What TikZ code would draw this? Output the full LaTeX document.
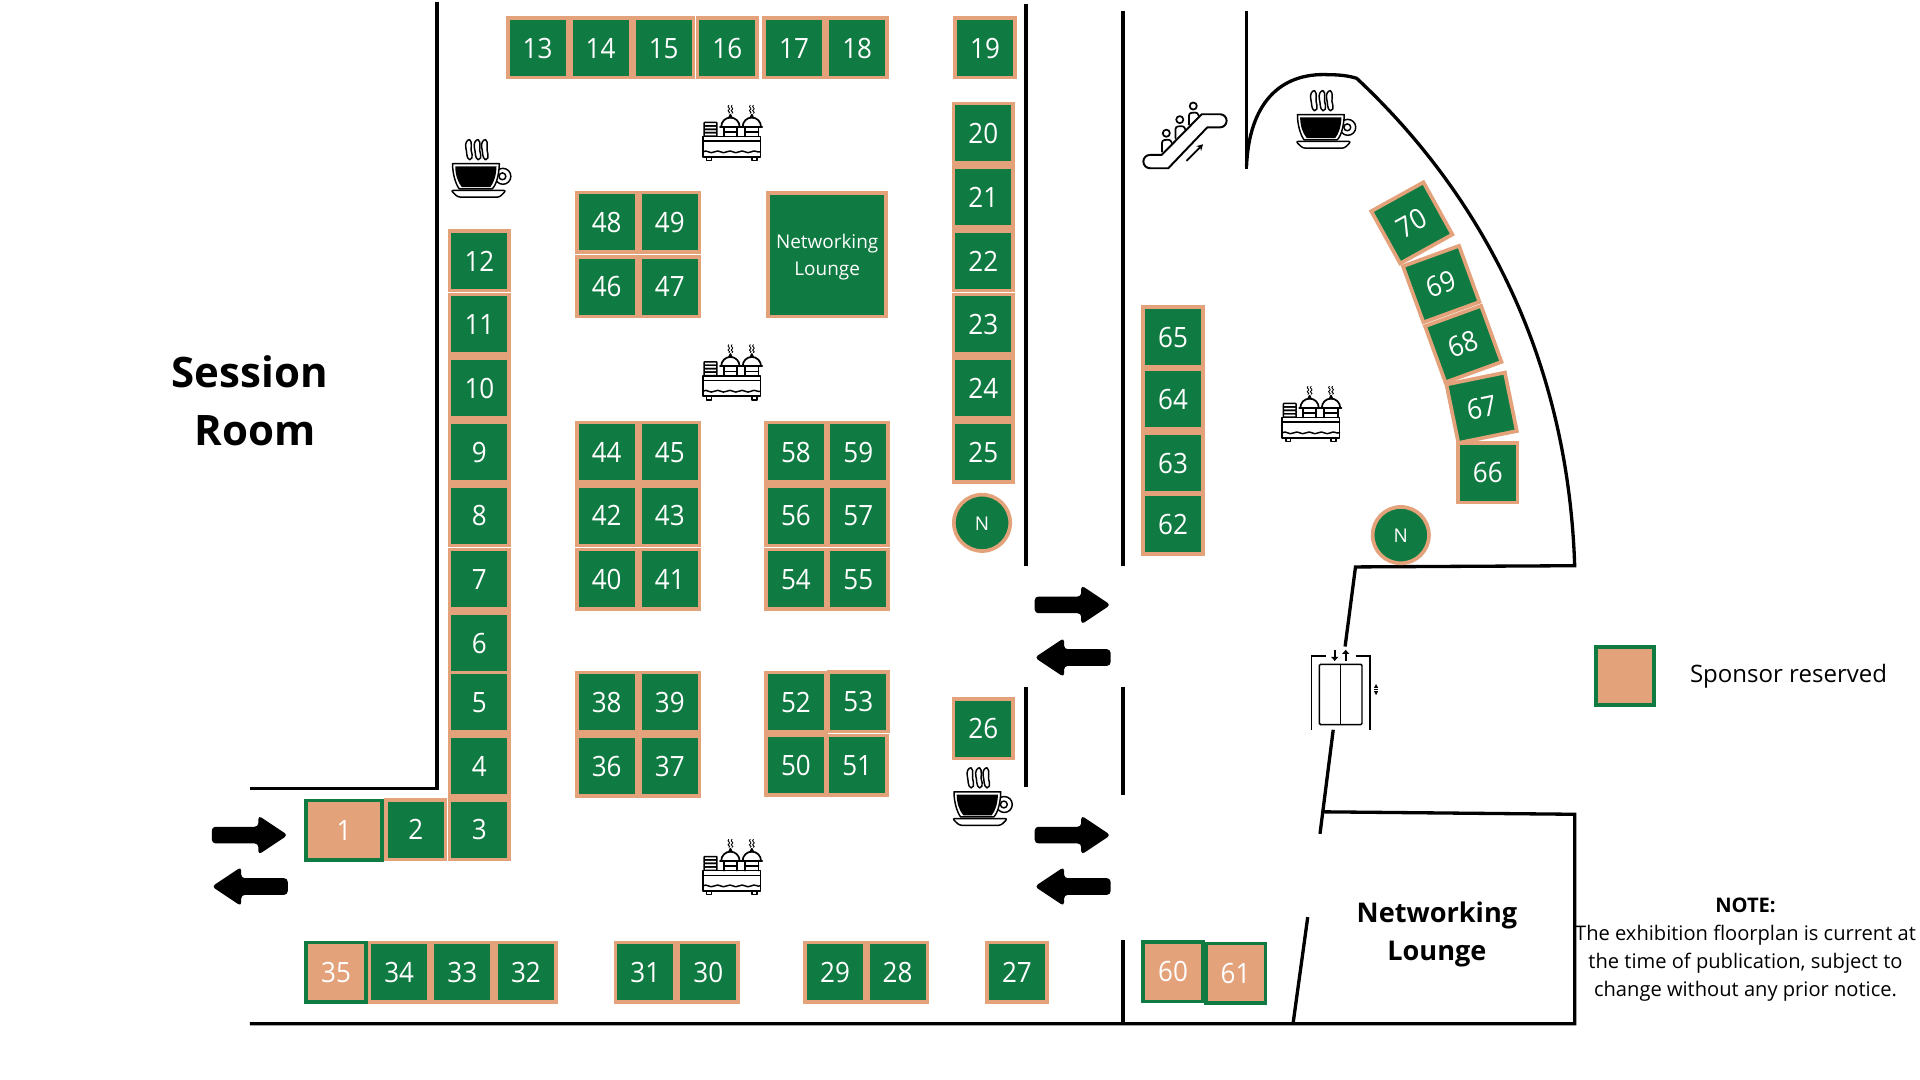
\documentclass[tikz,border=0pt]{standalone}
\usepackage{fontspec}
\setmainfont{Open Sans}
\newfontfamily\boothfont[FakeStretch=0.93]{Open Sans}
\usetikzlibrary{arrows.meta}
\definecolor{boothgreen}{HTML}{0F7A41}
\definecolor{boothpeach}{HTML}{E3A27A}
\tikzset{
	wall/.style={line width=0.027cm, line cap=butt},
	booth/.style={draw=boothpeach, fill=boothgreen, line width=0.03cm, inner sep=0, text=white, align=center, minimum width=0.487cm, minimum height=0.487cm, text height=0.168cm, text depth=0cm, font=\boothfont\fontsize{6.5}{8}\selectfont},
	reserved/.style={booth, draw=boothgreen, fill=boothpeach},
	pillar/.style={booth, circle, minimum width=0.46cm, minimum height=0.46cm, text height=0.125cm, font=\fontsize{4.4}{5}\selectfont},
	roomlabel/.style={align=center, inner sep=0, font=\bfseries\fontsize{9.75}{13.3}\selectfont},
	notelabel/.style={align=center, inner sep=0, font=\fontsize{4.67}{6.55}\selectfont},
	iconline/.style={line width=0.012cm, line join=round, line cap=round},
	movearrow/.pic={
		\fill[black, rounded corners=0.03cm] (-31,-6.8) -- (7,-6.8) -- (7,-16) -- (31,0) -- (7,16) -- (7,6.8) -- (-31,6.8) -- cycle;
	},
	coffeecup/.pic={
		\draw[iconline] (17.7,7) circle (6.5);
		\draw[iconline] (17.3,7) circle (2.8);
		\draw[iconline, fill=white] (-23.4,-3.3) -- (14.8,-3.3) .. controls (14.6,5) and (12.5,14) .. (9,17.2) -- (-18,17.2) .. controls (-21,13) and (-23.4,5) .. cycle;
		\fill[black] (-21.2,-1.1) -- (12.5,-1.1) .. controls (12.3,6) and (10.5,12) .. (7.4,15.8) -- (-15.8,15.8) .. controls (-19,12) and (-21.2,6) .. cycle;
		\draw[iconline, fill=white, rounded corners=0.02cm] (-24.8,18.5) -- (20.4,18.5) -- (15,24) -- (-19,24) -- cycle;
		\foreach \sx in {-10.5,-3.5,2.5}
			\draw[iconline] (\sx+1,-23) .. controls (\sx+4,-21) and (\sx+1,-15) .. (\sx+3,-11) .. controls (\sx+3.5,-9) and (\sx+3,-6.5) .. (\sx+1,-6.5) .. controls (\sx-2,-8) and (\sx-1,-13) .. (\sx-2,-16) .. controls (\sx-3,-20) and (\sx-1,-23) .. (\sx+1,-23) -- cycle;
	},
	buffet/.pic={
		\draw[iconline, line width=0.014cm] (-23.5,3) rectangle (23.5,19.5);
		\draw[iconline] (-23.5,6.8) -- (23.5,6.8);
		\draw[iconline] (-23.5,15.5) .. controls (-20,13) and (-18,18) .. (-14,15.5) .. controls (-10,13) and (-8,18) .. (-4,15.5) .. controls (0,13) and (2,18) .. (6,15.5) .. controls (10,13) and (12,18) .. (16,15.5) .. controls (19,13.5) and (21,16.5) .. (23.5,15.5);
		\draw[iconline, line width=0.014cm] (-20.5,19.5) rectangle (-16.5,22.5);
		\draw[iconline, line width=0.014cm] (16.5,19.5) rectangle (20.5,22.5);
		\foreach \py in {-8.5,-5.7,-2.9,-0.1}
			\draw[iconline, rounded corners=0.005cm] (-22.5,\py) rectangle (-12,\py+2.8);
		\foreach \dx in {-1,16.5} {
			\draw[iconline, line width=0.014cm] (\dx-5.5,-5) -- (\dx-5.5,3) (\dx+5.5,-5) -- (\dx+5.5,3);
			\draw[iconline] (\dx-5.5,-0.8) -- (\dx+5.5,-0.8);
			\draw[iconline, line width=0.014cm] (\dx-7.5,-5) arc (180:360:7.5);
			\draw[iconline, line width=0.014cm] (\dx-8.5,-5) -- (\dx+8.5,-5);
			\draw[iconline, fill=black] (\dx-1.2,-12.5) -- (\dx,-15) -- (\dx+1.2,-12.5) -- cycle;
			\foreach \wx in {-1.3,1.3}
				\draw[iconline, line width=0.007cm] (\dx+\wx,-22.5) .. controls (\dx+\wx-2.5,-21) and (\dx+\wx+2.5,-20) .. (\dx+\wx,-18.8) .. controls (\dx+\wx-2.5,-17.8) and (\dx+\wx+2.5,-17) .. (\dx+\wx,-16);
		}
	},
	escalator/.pic={
		\draw[line width=0.016cm, line join=round] (-28.3,15.5) -- (-18.8,15.5) -- (13.9,-17.7) -- (28.9,-17.7) arc (-90:90:5.35) -- (18.5,-7) -- (-13.4,26.4) -- (-28.3,26.4) arc (90:270:5.45) -- cycle;
		\foreach \hx/\hy in {-15/-2.2,-4/-13.3,7/-24.4} {
			\draw[iconline, line width=0.014cm] (\hx,\hy) circle (2.9);
			\draw[iconline, line width=0.014cm, rounded corners=0.02cm] (\hx-3.5,\hy+15.2) -- (\hx-3.5,\hy+5.7) -- (\hx+3.5,\hy+5.2) -- (\hx+4.5,\hy+8.2);
		}
		\draw[line width=0.014cm, -{Stealth[length=0.05cm, width=0.055cm]}] (1.4,20.4) -- (15,6.8);
	}
}

\begin{document}
\begin{tikzpicture}[x=0.01cm, y=-0.01cm]
	\useasboundingbox (0,0) rectangle (1568,882);
	
	%%%%% WALLS %%%%%
	\draw[wall] (357,2) -- (357,644) -- (204,644);
	\draw[wall] (838,3) -- (838,462);
	\draw[wall] (917,9) -- (917,462);
	\draw[wall] (838,561) -- (838,643);
	\draw[wall] (917,561) -- (917,649);
	\draw[wall] (917,768) -- (917,836);
	\draw[wall] (204,836) -- (1286,836) -- (1286,665) -- (1081,663);
	\draw[wall] (1018,9) -- (1018,138);
	\draw[wall] (1018,136) .. controls (1020,85) and (1045,59) .. (1085,61) .. controls (1094,61) and (1102,62) .. (1108,64) .. controls (1200,150) and (1280,280) .. (1286,462) -- (1107,463) -- (1098.5,528);
	\draw[wall] (1088.8,596) -- (1078,681);
	\draw[wall] (1068,749) -- (1056,836);
	
	%%%%% BOOTHS %%%%%
	\foreach \num/\bx/\by in {
		13/439/39, 14/490.5/39, 15/542/39, 16/594/39, 17/648.5/39, 18/700/39, 19/804.5/39,
		20/803/109, 21/803/161, 22/803/213, 23/803/265, 24/803/317, 25/803/369, 26/803/595,
		12/391.5/213, 11/391.5/265, 10/391.5/317, 9/391.5/369, 8/391.5/421, 7/391.5/473,
		6/391.5/525, 5/391.5/573.5, 4/391.5/625.5, 3/391.5/677.5, 2/339.5/677.5,
		48/495.5/181.5, 49/547/181.5, 46/495.5/234, 47/547/234,
		44/495.5/369.5, 45/547/369.5, 42/495.5/421, 43/547/421, 40/495.5/473, 41/547/473,
		58/650/369.5, 59/701/369.5, 56/650/421, 57/701/421, 54/650/473, 55/701/473,
		38/495.5/573.5, 39/547/573.5, 36/495.5/625.5, 37/547/625.5,
		52/650/573.5, 53/701/573, 50/650/625, 51/700/625,
		34/326/794, 33/377.5/794, 32/429.5/794, 31/527/794, 30/578.5/794,
		29/682/794, 28/733/794, 27/830.5/794,
		65/958/275, 64/958/326, 63/958/378, 62/958/428, 66/1215/386}
		\node[booth] (b\num) at (\bx,\by) {\num};
	
	\foreach \num/\bx/\by/\ang in {67/1210/333/11.5, 68/1195/281/20, 69/1177/232/20, 70/1153/182/29}
		\node[booth, rotate=\ang] (b\num) at (\bx,\by) {\num};
	
	\foreach \num/\bx/\by in {35/274.5/794, 61/1009/795, 60/958/793.5}
		\node[reserved] (b\num) at (\bx,\by) {\num};
	\node[reserved, minimum width=0.62cm] (b1) at (281,678) {1};
	
	\node[booth, minimum width=0.96cm, minimum height=1.01cm, text height=, text depth=, font=\fontsize{4.4}{6.1}\selectfont] (lounge) at (675.5,208) {\rule{0pt}{0.158cm}Networking\\Lounge};
	\node[pillar] (pillarA) at (802,427) {N};
	\node[pillar] (pillarB) at (1144,437) {N};
	
	%%%%% ICONS %%%%%
	\foreach \ix/\iy in {597.5/108.5, 597.5/304, 597.5/708, 1070.5/338}
		\pic at (\ix,\iy) {buffet};
	\foreach \ix/\iy in {393/137, 802.5/650, 1083/97}
		\pic at (\ix,\iy) {coffeecup};
	\pic at (967.5,111) {escalator};
	
	\foreach \ix/\iy in {204/682, 876/494, 876/682}
		\pic at (\ix,\iy) {movearrow};
	\foreach \ix/\iy in {204/724, 876/537, 876/724}
		\pic[xscale=-1] at (\ix,\iy) {movearrow};
	
	% lift
	\draw[line width=0.012cm] (1071,596) -- (1071,535.7) -- (1082.6,535.7);
	\draw[line width=0.012cm] (1107,535.7) -- (1118.8,535.7) -- (1118.8,596);
	\draw[line width=0.012cm, rounded corners=0.01cm] (1077.5,542.5) rectangle (1112.3,591.8);
	\draw[line width=0.012cm] (1094.9,542.5) -- (1094.9,591.8);
	\draw[line width=0.016cm, -{Latex[length=0.035cm, width=0.065cm]}] (1090,530.5) -- (1090,540);
	\draw[line width=0.016cm, -{Latex[length=0.035cm, width=0.065cm]}] (1099,540) -- (1099,530.5);
	\fill (1123.8,558.6) -- (1125.5,561.8) -- (1122.1,561.8) -- cycle;
	\fill (1123.8,567.7) -- (1125.5,564.5) -- (1122.1,564.5) -- cycle;
	\draw[line width=0.005cm] (1122.1,563.1) -- (1125.5,563.1);
	
	%%%%% TEXT %%%%%
	\node[roomlabel] (sessionA) at (204,304) {Session};
	\node[roomlabel] (sessionB) at (208.5,352) {Room};
	\node[roomlabel, font=\bfseries\fontsize{6.3}{8.8}\selectfont] (loungeroom) at (1173.5,763) {Networking\\Lounge};
	
	\node[reserved, minimum width=0.47cm, minimum height=0.47cm] (legend) at (1327,552) {};
	\node[notelabel, font=\fontsize{5.58}{6.5}\selectfont, anchor=west] (legendtext) at (1379.5,552) {Sponsor reserved};
	
	\node[notelabel] (note) at (1425.5,775.5) {\textbf{NOTE:}\\The exhibition floorplan is current at\\the time of publication, subject to\\change without any prior notice.};
\end{tikzpicture}
\end{document}
